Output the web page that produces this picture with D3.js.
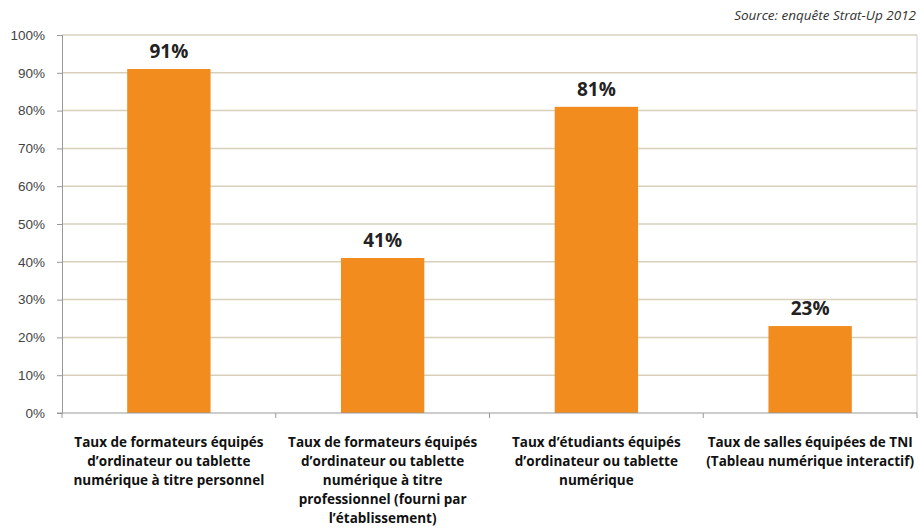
<!DOCTYPE html>
<html>
<head>
<meta charset="utf-8">
<script src="https://cdn.jsdelivr.net/npm/d3@7"></script>
<style>
  body { margin: 0; background: #fff; }
  svg { font-family: "Open Sans", "Noto Sans", sans-serif; }
  .grid line { stroke: #d8d0bb; stroke-width: 1.5; }
  .axis text { fill: #444; font-size: 13.5px; }
  .cat-label { font-weight: bold; font-size: 13.5px; fill: #111; }
  .value-label { font-weight: bold; font-size: 19px; fill: #222; }
</style>
</head>
<body>
<div id="chart"></div>
<script>
// data
const categories = [
  ["Taux de formateurs équipés", "d’ordinateur ou tablette", "numérique à titre personnel"],
  ["Taux de formateurs équipés", "d’ordinateur ou tablette", "numérique à titre", "professionnel (fourni par", "l’établissement)"],
  ["Taux d’étudiants équipés", "d’ordinateur ou tablette", "numérique"],
  ["Taux de salles équipées de TNI", "(Tableau numérique interactif)"]
];
const values = [0.91, 0.41, 0.81, 0.23];
const valueLabels = ["91%", "41%", "81%", "23%"];
const yTicks = [0, 0.1, 0.2, 0.3, 0.4, 0.5, 0.6, 0.7, 0.8, 0.9, 1.0];
const sourceText = "Source: enquête Strat-Up 2012";

const width = 920, height = 529;
const margin = {top: 35, right: 3, bottom: 116, left: 62};
const innerW = width - margin.left - margin.right;
const innerH = height - margin.top - margin.bottom;

const svg = d3.select('#chart').append('svg')
    .attr('width', width)
    .attr('height', height);

const chart = svg.append('g')
    .attr('transform', `translate(${margin.left},${margin.top})`);

const xScale = d3.scaleBand()
    .domain(d3.range(values.length))
    .range([0, innerW])
    .paddingInner(0.61)
    .paddingOuter(0.305);

const yScale = d3.scaleLinear()
    .domain([0, 1])
    .range([innerH, 0]);

// gridlines
chart.append('g')
    .attr('class', 'grid')
    .selectAll('line')
    .data(yTicks.filter(d => d > 0))
    .join('line')
    .attr('x1', 0)
    .attr('x2', innerW)
    .attr('y1', d => yScale(d))
    .attr('y2', d => yScale(d));

// right border line
chart.append('line')
    .attr('x1', innerW).attr('x2', innerW)
    .attr('y1', 0).attr('y2', innerH)
    .attr('stroke', '#cfcfcf');

// bars
chart.selectAll('.bar')
    .data(values)
    .join('rect')
    .attr('class', 'bar')
    .attr('x', (d, i) => xScale(i))
    .attr('y', d => yScale(d))
    .attr('width', xScale.bandwidth())
    .attr('height', d => innerH - yScale(d))
    .attr('fill', '#f28c1f');

// value labels
chart.selectAll('.value-label')
    .data(values)
    .join('text')
    .attr('class', 'value-label')
    .attr('x', (d, i) => xScale(i) + xScale.bandwidth() / 2)
    .attr('y', d => yScale(d) - 11)
    .attr('text-anchor', 'middle')
    .text((d, i) => valueLabels[i]);

// y axis
const yAxis = d3.axisLeft(yScale)
    .tickValues(yTicks)
    .tickFormat(d3.format('.0%'))
    .tickSize(5)
    .tickPadding(12);

chart.append('g')
    .attr('class', 'axis y-axis')
    .call(yAxis)
    .call(g => g.selectAll('line').attr('stroke', '#999'))
    .call(g => g.select('.domain').attr('stroke', '#999'));

// x axis baseline with category separators
const step = xScale.step();
chart.append('line')
    .attr('x1', -5).attr('x2', innerW)
    .attr('y1', innerH).attr('y2', innerH)
    .attr('stroke', '#999');

chart.selectAll('.sep')
    .data(d3.range(values.length + 1))
    .join('line')
    .attr('class', 'sep')
    .attr('x1', i => i * step).attr('x2', i => i * step)
    .attr('y1', innerH).attr('y2', innerH + 5)
    .attr('stroke', '#999');

// category labels
const catG = chart.selectAll('.cat-label')
    .data(categories)
    .join('text')
    .attr('class', 'cat-label')
    .attr('text-anchor', 'middle')
    .attr('transform', (d, i) => `translate(${xScale(i) + xScale.bandwidth() / 2},${innerH + 34})`);

catG.selectAll('tspan')
    .data(d => d)
    .join('tspan')
    .attr('x', 0)
    .attr('y', (d, j) => j * 19)
    .text(d => d);

// source
svg.append('text')
    .attr('x', width - 4)
    .attr('y', 20)
    .attr('text-anchor', 'end')
    .style('font-style', 'italic')
    .style('font-size', '13.5px')
    .style('fill', '#333')
    .text(sourceText);
</script>
</body>
</html>
